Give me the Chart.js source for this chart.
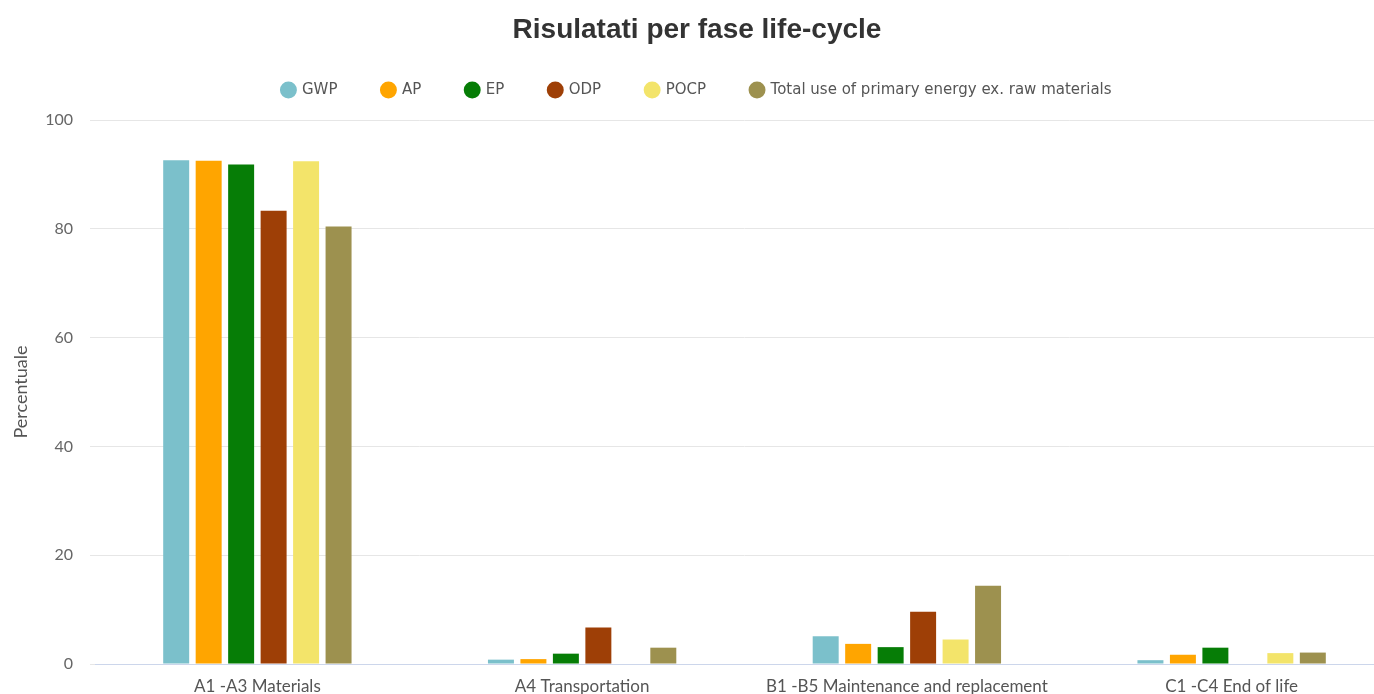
<!DOCTYPE html>
<html>
<head>
<meta charset="utf-8">
<script src="https://cdn.jsdelivr.net/npm/chart.js@4"></script>
<style>
html,body{margin:0;padding:0;background:#fff;overflow:hidden;width:1374px;height:694px;}
#wrap{position:absolute;left:0;top:0;width:1394px;height:694px;}
</style>
</head>
<body>
<div id="wrap"><canvas id="c" width="1394" height="694"></canvas></div>
<script>
const categories = ["A1 -A3 Materials", "A4 Transportation", "B1 -B5 Maintenance and replacement", "C1 -C4 End of life"];
const seriesNames = ["GWP", "AP", "EP", "ODP", "POCP", "Total use of primary energy ex. raw materials"];
const gwp   = [92.6, 0.8, 5.1, 0.7];
const ap    = [92.5, 0.9, 3.7, 1.7];
const ep    = [91.8, 1.9, 3.1, 3.0];
const odp   = [83.3, 6.7, 9.6, 0];
const pocp  = [92.4, 0, 4.5, 2.0];
const total = [80.4, 3.0, 14.4, 2.1];
const yTicks = [0, 20, 40, 60, 80, 100];
const colors = ["#7bc0cb", "#ffa500", "#067d06", "#9e3f06", "#f3e46a", "#9d914f"];

const values = [gwp, ap, ep, odp, pocp, total];
const datasets = seriesNames.map((n, i) => ({
  label: n,
  data: values[i],
  backgroundColor: colors[i],
  borderWidth: 0,
  categoryPercentage: 0.6,
  barPercentage: 0.8
}));

const legendHeight = {
  id: 'legendHeight',
  beforeInit(chart) {
    const lg = chart.legend;
    if (!lg) return;
    const orig = lg.fit;
    lg.fit = function () { orig.call(this); this.height = 82.4; };
  }
};

new Chart(document.getElementById('c'), {
  type: 'bar',
  data: { labels: categories, datasets: datasets },
  plugins: [legendHeight],
  options: {
    responsive: false,
    animation: false,
    layout: { padding: { left: 0, right: 0, top: 0, bottom: 0 } },
    plugins: {
      title: {
        display: true,
        text: 'Risulatati per fase life-cycle',
        color: '#333',
        font: { family: 'Liberation Sans, Arial, sans-serif', size: 28, weight: 'bold' },
        padding: { top: 13, bottom: -9 }
      },
      legend: {
        position: 'top',
        labels: {
          usePointStyle: true,
          pointStyle: 'circle',
          boxWidth: 12,
          boxHeight: 12,
          padding: 45,
          color: '#555',
          font: { family: 'DejaVu Sans, sans-serif', size: 15 }
        }
      },
      tooltip: { enabled: false }
    },
    scales: {
      x: {
        grid: { display: false },
        border: { display: true, color: '#ccd6eb' },
        ticks: { color: '#555', font: { family: 'Lato, sans-serif', size: 17 }, maxRotation: 0, padding: 4 },
        afterFit: s => { s.height = 30; }
      },
      y: {
        min: 0, max: 100,
        afterBuildTicks: s => { s.ticks = yTicks.map(v => ({ value: v })); },
        grid: { color: '#e6e6e6', tickLength: 5 },
        border: { display: false },
        ticks: { color: '#666', font: { family: 'Lato, sans-serif', size: 16 }, padding: 17 },
        title: { display: true, text: 'Percentuale', color: '#555', font: { family: 'Lato, sans-serif', size: 18 }, padding: { top: 10, bottom: 0 } },
        afterFit: s => { s.width = 95; }
      }
    }
  }
});
</script>
</body>
</html>
